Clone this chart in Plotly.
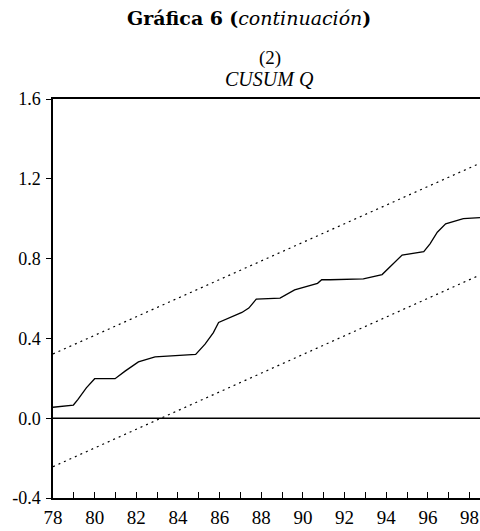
import plotly.graph_objects as go

# CUSUM of squares
cusum_years = [78.0, 78.98, 79.2, 79.6, 80.0, 80.98, 81.46, 82.1, 82.9, 84.2, 84.85,
               85.3, 85.7, 85.95, 86.5, 87.07, 87.4, 87.76, 88.9, 89.6, 90.7, 90.9,
               91.3, 92.9, 93.8, 94.2, 94.76, 95.8, 96.1, 96.45, 96.85, 97.7, 98.5]
cusum_values = [0.055, 0.066, 0.094, 0.152, 0.198, 0.198, 0.236, 0.282, 0.307, 0.315, 0.32,
                0.371, 0.429, 0.48, 0.505, 0.53, 0.552, 0.597, 0.602, 0.643, 0.676, 0.694,
                0.694, 0.698, 0.72, 0.76, 0.818, 0.835, 0.874, 0.932, 0.974, 1.0, 1.005]

# 5% significance bands (straight lines, endpoints)
band_years = [78.0, 98.5]
upper_band = [0.322, 1.278]
lower_band = [-0.243, 0.718]

y_ticks = [-0.4, 0.0, 0.4, 0.8, 1.2, 1.6]
y_tick_labels = ["-0.4", "0.0", "0.4", "0.8", "1.2", "1.6"]
x_ticks = [78, 80, 82, 84, 86, 88, 90, 92, 94, 96, 98]
x_tick_labels = [str(v) for v in x_ticks]

serif = "Liberation Serif, Times New Roman, serif"

fig = go.Figure()
fig.add_trace(go.Scatter(x=band_years, y=upper_band, mode="lines",
                         line=dict(color="black", width=1.2, dash="2px,4px"),
                         showlegend=False, hoverinfo="skip"))
fig.add_trace(go.Scatter(x=band_years, y=lower_band, mode="lines",
                         line=dict(color="black", width=1.2, dash="2px,4px"),
                         showlegend=False, hoverinfo="skip"))
fig.add_trace(go.Scatter(x=cusum_years, y=cusum_values, mode="lines",
                         line=dict(color="black", width=1.3),
                         showlegend=False))

fig.add_hline(y=0, line=dict(color="black", width=1.6))

fig.update_layout(
    width=480, height=531,
    paper_bgcolor="white", plot_bgcolor="white",
    margin=dict(l=53, r=0, t=99, b=33, pad=0, autoexpand=False),
    font=dict(family=serif, color="black", size=15),
    xaxis=dict(range=[78, 98.5], tickvals=x_ticks, ticktext=x_tick_labels,
               ticks="inside", ticklen=6, tickwidth=1, tickcolor="black",
               showline=True, linecolor="black", linewidth=1.5, mirror=True,
               showgrid=False, zeroline=False, automargin=False,
               minor=dict(dtick=1, tick0=78, ticks="inside", ticklen=6, tickcolor="black", showgrid=False),
               tickfont=dict(family=serif, size=19), ticklabelstandoff=1),
    yaxis=dict(range=[-0.4, 1.6], tickvals=y_ticks, ticktext=y_tick_labels,
               ticks="outside", ticklen=5, tickwidth=1, tickcolor="black",
               showline=True, linecolor="black", linewidth=1.5,
               showgrid=False, zeroline=False, automargin=False,
               tickfont=dict(family=serif, size=18), ticklabelstandoff=2),
    annotations=[
        dict(text="<b>Gráfica 6</b> <b>(</b><i>continuación</i><b>)</b>", xref="paper", yref="paper",
             x=0.46, y=1.203, xanchor="center", yanchor="middle", showarrow=False,
             font=dict(family="DejaVu Serif, serif", size=19, color="black")),
        dict(text="(2)", xref="paper", yref="paper", x=0.508, y=1.103,
             xanchor="center", yanchor="middle", showarrow=False,
             font=dict(family=serif, size=19, color="black")),
        dict(text="<i>CUSUM Q</i>", xref="paper", yref="paper", x=0.508, y=1.050,
             xanchor="center", yanchor="middle", showarrow=False,
             font=dict(family=serif, size=20, color="black")),
    ],
)

fig.write_html("out.html", config={"displayModeBar": False},
               post_script="document.body.style.margin='0';document.body.style.overflow='hidden';")
